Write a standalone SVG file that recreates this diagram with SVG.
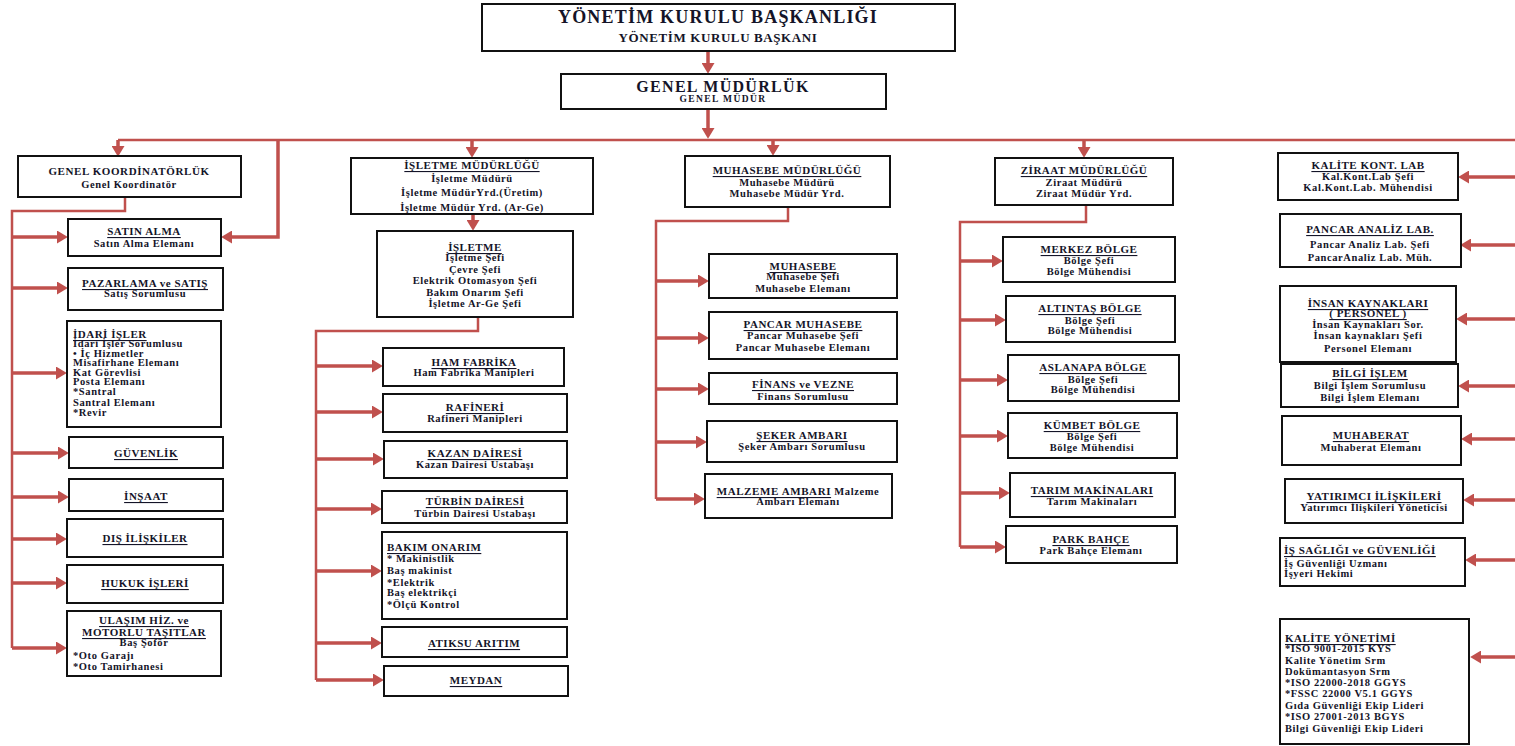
<svg xmlns="http://www.w3.org/2000/svg" width="1515" height="746" viewBox="0 0 1515 746">
<style>
rect.n{fill:#fff;stroke:#111;stroke-width:2}
text{font-family:"Liberation Serif","Times New Roman",serif;font-weight:bold;fill:#141428;dominant-baseline:central}
.t{font-size:11px;letter-spacing:.5px;text-decoration:underline;text-anchor:middle}
.tn{font-size:11px;letter-spacing:.6px;text-anchor:middle}
.b{font-size:10.5px;letter-spacing:.6px;text-anchor:middle}
.l{text-anchor:start}
.c path{fill:none;stroke:#c0504d;stroke-width:2.5}
.c path.a{stroke-width:3.5;marker-end:url(#ah)}
</style>
<defs>
<marker id="ah" viewBox="0 0 10 12" refX="0" refY="6" markerWidth="11" markerHeight="13" markerUnits="userSpaceOnUse" orient="auto"><path d="M0,0 L10,6 L0,12 z" fill="#c0504d"/></marker>
</defs>
<rect width="1515" height="746" fill="#fff"/>
<g class="c" id="connectors">
<path class="a" d="M708,51 V63"/>
<path class="a" d="M708,109 V128"/>
<path d="M118,140 H1515"/>
<path class="a" d="M118,140 V146"/>
<path class="a" d="M472,140 V147"/>
<path class="a" d="M773,140 V145"/>
<path class="a" d="M1084,140 V147"/>
<path class="a" d="M278,140 V237 H232"/>
<path class="a" d="M473,214 V220"/>
<path d="M125,197 V211 H12 V648"/>
<path class="a" d="M12,237 H57"/>
<path class="a" d="M12,288 H57"/>
<path class="a" d="M12,373 H56"/>
<path class="a" d="M12,453 H58"/>
<path class="a" d="M12,497 H58"/>
<path class="a" d="M12,539 H56"/>
<path class="a" d="M12,583 H56"/>
<path class="a" d="M12,648 H56"/>
<path d="M478,317 V331 H316 V680"/>
<path class="a" d="M316,366 H372"/>
<path class="a" d="M316,412 H372"/>
<path class="a" d="M316,459 H373"/>
<path class="a" d="M316,509 H371"/>
<path class="a" d="M316,571 H371"/>
<path class="a" d="M316,643 H371"/>
<path class="a" d="M316,680 H373"/>
<path d="M788,207 V221 H656 V499"/>
<path class="a" d="M656,281 H698"/>
<path class="a" d="M656,338 H698"/>
<path class="a" d="M656,389 H698"/>
<path class="a" d="M656,442 H696"/>
<path class="a" d="M656,499 H694"/>
<path d="M1086,205 V222 H960 V547"/>
<path class="a" d="M960,261 H992"/>
<path class="a" d="M960,320 H995"/>
<path class="a" d="M960,380 H997"/>
<path class="a" d="M960,436 H997"/>
<path class="a" d="M960,493 H999"/>
<path class="a" d="M960,547 H995"/>
<path class="a" d="M1515,177 H1469"/>
<path class="a" d="M1515,245 H1471"/>
<path class="a" d="M1515,319 H1467"/>
<path class="a" d="M1515,386 H1469"/>
<path class="a" d="M1515,439 H1472"/>
<path class="a" d="M1515,500 H1474"/>
<path class="a" d="M1515,560 H1476"/>
<path class="a" d="M1515,657 H1481"/>
</g>
<g id="ykb"><rect class="n" x="482" y="4" width="473" height="47"/>
<text x="718" y="17" style="font-size:18px;letter-spacing:1.2px;text-anchor:middle">YÖNETİM KURULU BAŞKANLIĞI</text>
<text x="718" y="37" style="font-size:13px;letter-spacing:.6px;text-anchor:middle">YÖNETİM KURULU BAŞKANI</text></g>
<g id="gm"><rect class="n" x="561" y="74" width="325" height="35"/>
<text x="723" y="86" style="font-size:16px;letter-spacing:1.3px;text-anchor:middle">GENEL MÜDÜRLÜK</text>
<text x="723" y="99" style="font-size:9.5px;letter-spacing:1.4px;text-anchor:middle">GENEL MÜDÜR</text></g>
<g id="gk"><rect class="n" x="18" y="156" width="223" height="41"/>
<text class="tn" x="129" y="171">GENEL KOORDİNATÖRLÜK</text>
<text class="b" x="129" y="184">Genel Koordinatör</text></g>
<g id="satin"><rect class="n" x="68" y="219" width="153" height="37"/>
<text class="t" x="144" y="231">SATIN ALMA</text>
<text class="b" x="144" y="243">Satın Alma Elemanı</text></g>
<g id="pazarlama"><rect class="n" x="68" y="268" width="155" height="42"/>
<text class="t" x="145" y="283">PAZARLAMA  ve  SATIŞ</text>
<text class="b" x="145" y="293">Satış Sorumlusu</text></g>
<g id="idari"><rect class="n" x="67" y="321" width="154" height="106"/>
<text class="t l" x="73" y="334">İDARİ İŞLER</text>
<text class="b l" x="73" y="343">İdari İşler Sorumlusu</text>
<text class="b l" x="73" y="353">• İç Hizmetler</text>
<text class="b l" x="73" y="362">Misafirhane Elemanı</text>
<text class="b l" x="73" y="372">Kat Görevlisi</text>
<text class="b l" x="73" y="381">Posta Elemanı</text>
<text class="b l" x="73" y="391">*Santral</text>
<text class="b l" x="73" y="402">Santral Elemanı</text>
<text class="b l" x="73" y="412">*Revir</text></g>
<g id="guvenlik"><rect class="n" x="69" y="437" width="154" height="31"/>
<text class="t" x="146" y="453">GÜVENLİK</text></g>
<g id="insaat"><rect class="n" x="69" y="479" width="154" height="32"/>
<text class="t" x="146" y="496">İNŞAAT </text></g>
<g id="dis"><rect class="n" x="67" y="519" width="156" height="38"/>
<text class="t" x="145" y="538">DIŞ İLİŞKİLER</text></g>
<g id="hukuk"><rect class="n" x="67" y="565" width="156" height="38"/>
<text class="t" x="145" y="583">HUKUK İŞLERİ</text></g>
<g id="ulasim"><rect class="n" x="67" y="611" width="154" height="65"/>
<text class="t" x="144" y="620">ULAŞIM HİZ. ve</text>
<text class="t" x="144" y="632">MOTORLU TAŞITLAR</text>
<text class="b" x="144" y="642">Baş Şoför</text>
<text class="b l" x="73" y="655">*Oto Garajı</text>
<text class="b l" x="73" y="666">*Oto Tamirhanesi</text></g>
<g id="isletmemud"><rect class="n" x="351" y="158" width="242" height="56"/>
<text class="t" x="472" y="165">İŞLETME MÜDÜRLÜĞÜ</text>
<text class="b" x="472" y="178">İşletme Müdürü</text>
<text class="b" x="472" y="192">İşletme MüdürYrd.(Üretim)</text>
<text class="b" x="472" y="207">İşletme Müdür Yrd. (Ar-Ge)</text></g>
<g id="isletme"><rect class="n" x="377" y="231" width="196" height="86"/>
<text class="t" x="475" y="247">İŞLETME</text>
<text class="b" x="475" y="257">İşletme Şefi</text>
<text class="b" x="475" y="269">Çevre Şefi</text>
<text class="b" x="475" y="280">Elektrik Otomasyon Şefi</text>
<text class="b" x="475" y="292">Bakım Onarım Şefi</text>
<text class="b" x="475" y="303">İşletme Ar-Ge Şefi</text></g>
<g id="ham"><rect class="n" x="383" y="348" width="181" height="38"/>
<text class="t" x="474" y="362">HAM FABRİKA</text>
<text class="b" x="474" y="372">Ham Fabrika Manipleri</text></g>
<g id="rafineri"><rect class="n" x="383" y="394" width="184" height="38"/>
<text class="t" x="475" y="407">RAFİNERİ</text>
<text class="b" x="475" y="418">Rafineri Manipleri</text></g>
<g id="kazan"><rect class="n" x="384" y="441" width="183" height="37"/>
<text class="t" x="475" y="453">KAZAN DAİRESİ</text>
<text class="b" x="475" y="464">Kazan Dairesi Ustabaşı</text></g>
<g id="turbin"><rect class="n" x="382" y="491" width="185" height="32"/>
<text class="t" x="475" y="501">TÜRBİN DAİRESİ</text>
<text class="b" x="475" y="513">Türbin Dairesi Ustabaşı</text></g>
<g id="bakim"><rect class="n" x="382" y="532" width="185" height="87"/>
<text class="t l" x="387" y="547">BAKIM ONARIM</text>
<text class="b l" x="387" y="558">* Makinistlik</text>
<text class="b l" x="387" y="570">Baş makinist</text>
<text class="b l" x="387" y="582">*Elektrik</text>
<text class="b l" x="387" y="592">Baş elektrikçi</text>
<text class="b l" x="387" y="604">*Ölçü Kontrol</text></g>
<g id="atiksu"><rect class="n" x="382" y="627" width="185" height="30"/>
<text class="t" x="474" y="643">ATIKSU ARITIM</text></g>
<g id="meydan"><rect class="n" x="384" y="666" width="184" height="30"/>
<text class="t" x="476" y="680">MEYDAN</text></g>
<g id="muhasebemud"><rect class="n" x="685" y="156" width="205" height="51"/>
<text class="t" x="787" y="170">MUHASEBE MÜDÜRLÜĞÜ</text>
<text class="b" x="787" y="182">Muhasebe Müdürü</text>
<text class="b" x="787" y="193">Muhasebe Müdür Yrd.</text></g>
<g id="muhasebe"><rect class="n" x="709" y="254" width="188" height="44"/>
<text class="t" x="803" y="266"> MUHASEBE</text>
<text class="b" x="803" y="276">Muhasebe Şefi</text>
<text class="b" x="803" y="288">Muhasebe Elemanı</text></g>
<g id="pancarmuh"><rect class="n" x="709" y="312" width="188" height="47"/>
<text class="t" x="803" y="324">PANCAR MUHASEBE</text>
<text class="b" x="803" y="335">Pancar Muhasebe Şefi</text>
<text class="b" x="803" y="347">Pancar Muhasebe  Elemanı</text></g>
<g id="finans"><rect class="n" x="709" y="373" width="188" height="31"/>
<text class="t" x="803" y="384">FİNANS ve VEZNE</text>
<text class="b" x="803" y="396">Finans Sorumlusu</text></g>
<g id="seker"><rect class="n" x="707" y="421" width="190" height="41"/>
<text class="t" x="802" y="435">ŞEKER AMBARI</text>
<text class="b" x="802" y="446">Şeker Ambarı Sorumlusu</text></g>
<g id="malzeme"><rect class="n" x="705" y="474" width="187" height="44"/>
<text class="b" x="798" y="491"><tspan style="text-decoration:underline;font-size:11px">MALZEME AMBARI</tspan> Malzeme</text>
<text class="b" x="798" y="501">Ambarı Elemanı</text></g>
<g id="ziraatmud"><rect class="n" x="995" y="158" width="178" height="47"/>
<text class="t" x="1084" y="170">ZİRAAT MÜDÜRLÜĞÜ</text>
<text class="b" x="1084" y="182">Ziraat Müdürü</text>
<text class="b" x="1084" y="193">Ziraat Müdür Yrd.</text></g>
<g id="merkez"><rect class="n" x="1003" y="237" width="172" height="45"/>
<text class="t" x="1089" y="249">MERKEZ BÖLGE</text>
<text class="b" x="1089" y="260">Bölge Şefi</text>
<text class="b" x="1089" y="271">Bölge Mühendisi</text></g>
<g id="altintas"><rect class="n" x="1006" y="296" width="169" height="46"/>
<text class="t" x="1090" y="308">ALTINTAŞ BÖLGE</text>
<text class="b" x="1090" y="320">Bölge Şefi</text>
<text class="b" x="1090" y="330">Bölge Mühendisi</text></g>
<g id="aslanapa"><rect class="n" x="1008" y="355" width="171" height="46"/>
<text class="t" x="1093" y="367">ASLANAPA BÖLGE</text>
<text class="b" x="1093" y="379">Bölge Şefi</text>
<text class="b" x="1093" y="389">Bölge Mühendisi</text></g>
<g id="kumbet"><rect class="n" x="1008" y="413" width="169" height="45"/>
<text class="t" x="1092" y="425">KÜMBET BÖLGE</text>
<text class="b" x="1092" y="436">Bölge Şefi</text>
<text class="b" x="1092" y="447">Bölge Mühendisi</text></g>
<g id="tarim"><rect class="n" x="1010" y="473" width="165" height="44"/>
<text class="t" x="1092" y="490">TARIM MAKİNALARI</text>
<text class="b" x="1092" y="501">Tarım Makinaları</text></g>
<g id="park"><rect class="n" x="1006" y="526" width="171" height="37"/>
<text class="t" x="1091" y="539">PARK BAHÇE</text>
<text class="b" x="1091" y="550">Park Bahçe Elemanı</text></g>
<g id="kalitekont"><rect class="n" x="1278" y="153" width="180" height="47"/>
<text class="t" x="1368" y="165">KALİTE KONT. LAB</text>
<text class="b" x="1368" y="176">Kal.Kont.Lab Şefi</text>
<text class="b" x="1368" y="187">Kal.Kont.Lab. Mühendisi</text></g>
<g id="pancaranaliz"><rect class="n" x="1280" y="214" width="181" height="53"/>
<text class="t" x="1370" y="229">PANCAR ANALİZ LAB.</text>
<text class="b" x="1370" y="244">Pancar Analiz  Lab. Şefi</text>
<text class="b" x="1370" y="257">PancarAnaliz Lab. Müh.</text></g>
<g id="insan"><rect class="n" x="1280" y="286" width="176" height="76"/>
<text class="t" x="1368" y="303">İNSAN  KAYNAKLARI</text>
<text class="t" x="1368" y="313">( PERSONEL )</text>
<text class="b" x="1368" y="324">İnsan Kaynakları Sor.</text>
<text class="b" x="1368" y="335">İnsan kaynakları Şefi</text>
<text class="b" x="1368" y="348">Personel Elemanı</text></g>
<g id="bilgi"><rect class="n" x="1281" y="364" width="177" height="43"/>
<text class="t" x="1370" y="373">BİLGİ İŞLEM</text>
<text class="b" x="1370" y="385">Bilgi İşlem Sorumlusu</text>
<text class="b" x="1370" y="397">Bilgi İşlem Elemanı</text></g>
<g id="muhaberat"><rect class="n" x="1282" y="416" width="179" height="49"/>
<text class="t" x="1371" y="435">MUHABERAT</text>
<text class="b" x="1371" y="447">Muhaberat Elemanı</text></g>
<g id="yatirimci"><rect class="n" x="1285" y="479" width="178" height="44"/>
<text class="t" x="1374" y="496">YATIRIMCI İLİŞKİLERİ</text>
<text class="b" x="1374" y="507">Yatırımcı İlişkileri Yöneticisi</text></g>
<g id="issagligi"><rect class="n" x="1280" y="538" width="185" height="48"/>
<text class="t l" x="1284" y="550">İŞ SAĞLIĞI ve GÜVENLİĞİ</text>
<text class="b l" x="1284" y="563">İş Güvenliği Uzmanı</text>
<text class="b l" x="1284" y="573">İşyeri Hekimi</text></g>
<g id="kaliteyon"><rect class="n" x="1280" y="619" width="189" height="125"/>
<text class="t l" x="1285" y="638">KALİTE YÖNETİMİ</text>
<text class="b l" x="1285" y="648"> *ISO 9001-2015  KYS</text>
<text class="b l" x="1285" y="660">Kalite Yönetim Srm</text>
<text class="b l" x="1285" y="671">Dokümantasyon Srm</text>
<text class="b l" x="1285" y="682">*ISO 22000-2018 GGYS</text>
<text class="b l" x="1285" y="693">*FSSC 22000 V5.1 GGYS</text>
<text class="b l" x="1285" y="705">Gıda Güvenliği Ekip Lideri</text>
<text class="b l" x="1285" y="716">*ISO 27001-2013 BGYS</text>
<text class="b l" x="1285" y="728">Bilgi Güvenliği Ekip Lideri</text></g>
</svg>
